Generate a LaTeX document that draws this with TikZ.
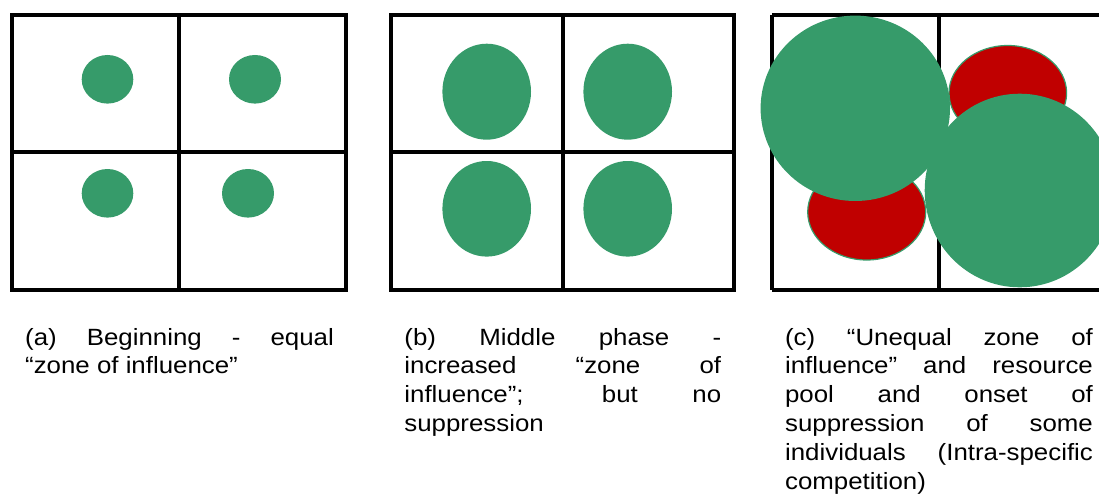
\documentclass[tikz,border=0pt]{standalone}
\usepackage{fontspec}
\usetikzlibrary{shapes.geometric}
\newfontfamily\capfont[FakeStretch=1.1]{Liberation Sans}
\definecolor{plantgreen}{RGB}{54,155,106}
\definecolor{suppred}{RGB}{192,0,0}
\newcommand\capsetup{\capfont\fontsize{23.5pt}{28.8pt}\selectfont
  \hyphenpenalty=10000\relax\exhyphenpenalty=10000\relax\tolerance=10000\relax}
\tikzset{
  gridline/.style={draw=black, line width=4pt},
  plant/.style={ellipse, fill=plantgreen, inner sep=0pt, outer sep=0pt},
  suppressed/.style={ellipse, fill=suppred, draw=plantgreen, line width=1.2pt, inner sep=0pt, outer sep=0pt},
  caption/.style={anchor=base west, inner sep=0pt, align=justify, font=\capsetup}
}
\begin{document}
\begin{tikzpicture}[x=1pt, y=-1pt]
  \useasboundingbox (0,0) rectangle (1099,500);
  \clip (0,0) rectangle (1099,500);

  % (a) beginning: four small, equal plants
  \draw[gridline] (12,15.3) rectangle (345.5,289.5);
  \draw[gridline] (179,15.3) -- (179,289.5);
  \draw[gridline] (12,152) -- (345.5,152);
  \node[plant, minimum width=51.6pt, minimum height=48.6pt] (a1) at (107.5,79.3) {};
  \node[plant, minimum width=52pt, minimum height=48.6pt] (a2) at (255,79.3) {};
  \node[plant, minimum width=51.6pt, minimum height=48.6pt] (a3) at (107.5,193.3) {};
  \node[plant, minimum width=52pt, minimum height=48.6pt] (a4) at (248,193.3) {};

  % (b) middle phase: larger, still separate
  \draw[gridline] (391.3,15.3) rectangle (734,289.5);
  \draw[gridline] (563,15.3) -- (563,289.5);
  \draw[gridline] (391.3,152) -- (734,152);
  \node[plant, minimum width=88.6pt, minimum height=96pt] (b1) at (486.7,91.7) {};
  \node[plant, minimum width=88.6pt, minimum height=96pt] (b2) at (627.7,91.7) {};
  \node[plant, minimum width=88.6pt, minimum height=95.6pt] (b3) at (486.7,208.8) {};
  \node[plant, minimum width=88.6pt, minimum height=95.6pt] (b4) at (627.7,208.8) {};

  % (c) unequal growth: two dominant plants over two suppressed ones
  \draw[gridline] (772,15.3) -- (1120,15.3);
  \draw[gridline] (772,289.5) -- (1120,289.5);
  \draw[gridline] (772,15.3) -- (772,289.5);
  \draw[gridline] (938.7,15.3) -- (938.7,289.5);
  \node[suppressed, minimum width=118pt, minimum height=96pt] (c3) at (866.7,212) {};
  \node[suppressed, minimum width=117.6pt, minimum height=95pt] (c2) at (1007.8,93) {};
  \node[plant, minimum width=189.4pt, minimum height=185.4pt] (c1) at (855.3,108.3) {};
  \node[plant, minimum width=190pt, minimum height=193.6pt] (c4) at (1019.7,190.5) {};

  % captions
  \node[caption, text width=308.7pt] (capa) at (25,345)
    {(a) Beginning - equal\linebreak “zone of influence”};
  \node[caption, text width=316.8pt] (capb) at (404.2,345)
    {(b) Middle phase -\linebreak increased “zone of\linebreak influence”; but no\linebreak suppression};
  \node[caption, text width=307.8pt] (capc) at (784.9,345)
    {(c) “Unequal zone of\linebreak influence” and resource\linebreak pool and onset of\linebreak suppression of some\linebreak individuals (Intra-specific\linebreak competition)};
\end{tikzpicture}
\end{document}
